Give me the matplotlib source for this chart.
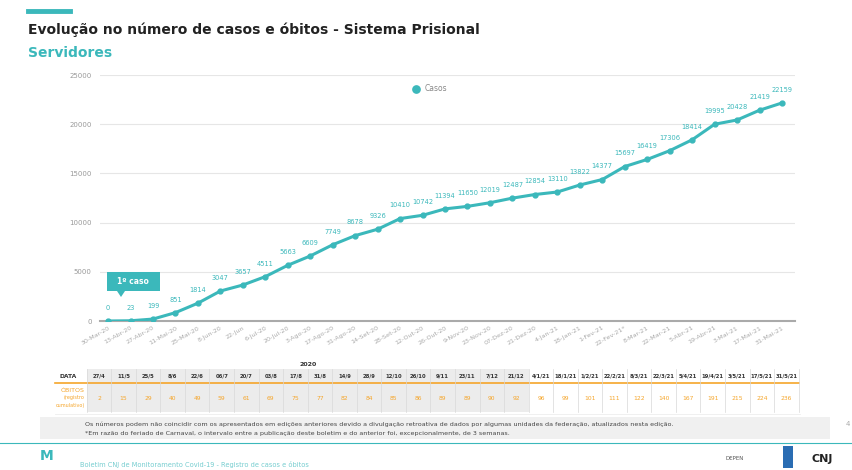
import matplotlib.pyplot as plt
from matplotlib.patches import Rectangle, FancyBboxPatch, Polygon
from matplotlib.lines import Line2D

# casos - servidores
datas = ['30-Mar-20', '13-Abr-20', '27-Abr-20', '11-Mai-20', '25-Mai-20', '8-Jun-20',
         '22-Jun', '6-Jul-20', '20-Jul-20', '3-Ago-20', '17-Ago-20', '31-Ago-20',
         '14-Set-20', '28-Set-20', '12-Out-20', '26-Out-20', '9-Nov-20', '23-Nov-20',
         '07-Dez-20', '21-Dez-20', '4-Jan-21', '18-Jan-21', '1-Fev-21', '22-Fev-21*',
         '8-Mar-21', '22-Mar-21', '5-Abr-21', '19-Abr-21', '3-Mai-21', '17-Mai-21', '31-Mai-21']
casos = [0, 23, 199, 851, 1814, 3047, 3657, 4511, 5663, 6609, 7749, 8678, 9326, 10410,
         10742, 11394, 11650, 12019, 12487, 12854, 13110, 13822, 14377, 15697, 16419,
         17306, 18414, 19995, 20428, 21419, 22159]

# tabela de obitos
tab_datas = ['27/4', '11/5', '25/5', '8/6', '22/6', '06/7', '20/7', '03/8', '17/8', '31/8',
             '14/9', '28/9', '12/10', '26/10', '9/11', '23/11', '7/12', '21/12', '4/1/21',
             '18/1/21', '1/2/21', '22/2/21', '8/3/21', '22/3/21', '5/4/21', '19/4/21',
             '3/5/21', '17/5/21', '31/5/21']
obitos = [2, 15, 29, 40, 49, 59, 61, 69, 75, 77, 82, 84, 85, 86, 89, 89, 90, 92, 96, 99,
          101, 111, 122, 140, 167, 191, 215, 224, 236]
n_2020 = 18

TEAL = '#3bb8bb'
ORANGE = '#f5a52a'
W, H = 853, 470

fig = plt.figure(figsize=(W / 100, H / 100), dpi=100)


def fx(px):
    return px / W


def fy(py):
    return 1 - py / H


# header
fig.add_artist(Line2D([fx(28), fx(70)], [fy(11), fy(11)], color=TEAL, lw=3.5))
fig.text(fx(28), fy(30), 'Evolução no número de casos e óbitos - Sistema Prisional',
         fontsize=10, fontweight='bold', color='#222222', va='center')
fig.text(fx(28), fy(53), 'Servidores', fontsize=10, fontweight='bold', color=TEAL, va='center')

# main chart
ax = fig.add_axes([fx(100), fy(321), fx(795) - fx(100), fy(75) - fy(321)])
x = list(range(len(casos)))
ax.plot(x, casos, color=TEAL, lw=2.2, marker='o', ms=3.5, zorder=3, label='Casos')
for i, v in enumerate(casos):
    ax.annotate(str(v), (i, v), xytext=(0, 8), textcoords='offset points',
                ha='center', fontsize=4.8, color=TEAL)
ax.set_xlim(-0.36, 30.58)
ax.set_ylim(0, 25000)
ax.set_yticks(range(0, 25001, 5000))
ax.tick_params(axis='y', labelsize=5, colors='#999999', length=0, pad=6)
ax.set_xticks(x)
ax.set_xticklabels(datas, rotation=30, ha='right', rotation_mode='anchor',
                   fontsize=4.6, color='#aaaaaa')
ax.tick_params(axis='x', length=0, pad=3)
ax.grid(axis='y', color='#e6e6e6', lw=0.8)
ax.set_axisbelow(True)
for s in ['top', 'right', 'left']:
    ax.spines[s].set_visible(False)
ax.spines['bottom'].set_color('#aaaaaa')
ax.spines['bottom'].set_linewidth(1.5)
ax.legend(loc='upper center', bbox_to_anchor=(0.475, 0.99), frameon=False, fontsize=5.5,
          labelcolor='#888888', handlelength=0.6, markerscale=1.5)
leg = ax.get_legend()
for h in leg.legend_handles:
    h.set_linestyle('')

# 1o caso callout
box = FancyBboxPatch((fx(107), fy(291)), fx(160) - fx(107), fy(272) - fy(291),
                     boxstyle='square,pad=0', transform=fig.transFigure,
                     facecolor=TEAL, edgecolor='none')
fig.add_artist(box)
fig.add_artist(Polygon([[fx(117), fy(291)], [fx(125), fy(291)], [fx(121), fy(297)]],
                       closed=True, transform=fig.transFigure, facecolor=TEAL, edgecolor='none'))
fig.text(fx(133), fy(281.5), '1º caso', fontsize=5.5, fontweight='bold', color='white',
         ha='center', va='center')

# table
col0, dcol = 99, 24.55
y_head, y_line, y_val = 376, 383, 398
fig.add_artist(Rectangle((fx(col0 - dcol / 2), fy(412)), n_2020 * dcol / W, (412 - 369) / H,
                         transform=fig.transFigure, facecolor='#ececec', edgecolor='none'))
fig.text(fx(col0 + (n_2020 - 1) * dcol / 2), fy(364), '2020', fontsize=4.5,
         fontweight='bold', color='#333333', ha='center', va='center')
fig.text(fx(68), fy(y_head), 'DATA', fontsize=4.3, fontweight='bold', color='#333333',
         ha='center', va='center')
fig.add_artist(Line2D([fx(55), fx(col0 + 28.5 * dcol)], [fy(y_line), fy(y_line)],
                      color=ORANGE, lw=1.2))
for i, (d, o) in enumerate(zip(tab_datas, obitos)):
    cx = col0 + i * dcol
    fig.text(fx(cx), fy(y_head), d, fontsize=3.8, fontweight='bold', color='#333333',
             ha='center', va='center')
    fig.text(fx(cx), fy(y_val), str(o), fontsize=4.3, color=ORANGE, ha='center', va='center')
    xl = cx - dcol / 2
    fig.add_artist(Line2D([fx(xl), fx(xl)], [fy(369), fy(412)], color='#d8d8d8', lw=0.5))
fig.add_artist(Line2D([fx(col0 + 28.5 * dcol)] * 2, [fy(369), fy(412)], color='#d8d8d8', lw=0.5))
fig.text(fx(85), fy(390), 'ÓBITOS', fontsize=4.5, color=ORANGE, ha='right', va='center')
fig.text(fx(85), fy(398), '(registro', fontsize=3.5, color=ORANGE, ha='right', va='center')
fig.text(fx(85), fy(405), 'cumulativo)', fontsize=3.5, color=ORANGE, ha='right', va='center')
fig.add_artist(Line2D([fx(55), fx(800)], [fy(414), fy(414)], color='#eeeeee', lw=0.6))

# note
fig.add_artist(Rectangle((fx(40), fy(439)), fx(830) - fx(40), (439 - 417) / H,
                         transform=fig.transFigure, facecolor='#f0f0f0', edgecolor='none'))
fig.text(fx(85), fy(424), 'Os números podem não coincidir com os apresentados em edições anteriores '
         'devido a divulgação retroativa de dados por algumas unidades da federação, '
         'atualizados nesta edição.', fontsize=4.6, color='#444444', va='center')
fig.text(fx(85), fy(433), '*Em razão do feriado de Carnaval, o intervalo entre a publicação deste '
         'boletim e do anterior foi, excepcionalmente, de 3 semanas.', fontsize=4.6,
         color='#444444', va='center')
fig.text(fx(846), fy(424), '4', fontsize=5, color='#aaaaaa', va='center')

# footer
fig.add_artist(Line2D([0, 1], [fy(443), fy(443)], color=TEAL, lw=0.8))
fig.text(fx(80), fy(465), 'Boletim CNJ de Monitoramento Covid-19 - Registro de casos e óbitos',
         fontsize=4.8, color=TEAL, va='center', alpha=0.7)
fig.text(fx(47), fy(456), 'M', fontsize=10, fontweight='bold', color=TEAL, ha='center', va='center')
fig.text(fx(735), fy(459), 'DEPEN', fontsize=4, color='#555555', ha='center', va='center')
fig.add_artist(Rectangle((fx(783), fy(468)), fx(10), 22 / H, transform=fig.transFigure,
                         facecolor='#2a6db3', edgecolor='none'))
fig.text(fx(822), fy(459), 'CNJ', fontsize=8, fontweight='bold', color='#222222',
         ha='center', va='center')

fig.savefig('out.png', dpi=100)
